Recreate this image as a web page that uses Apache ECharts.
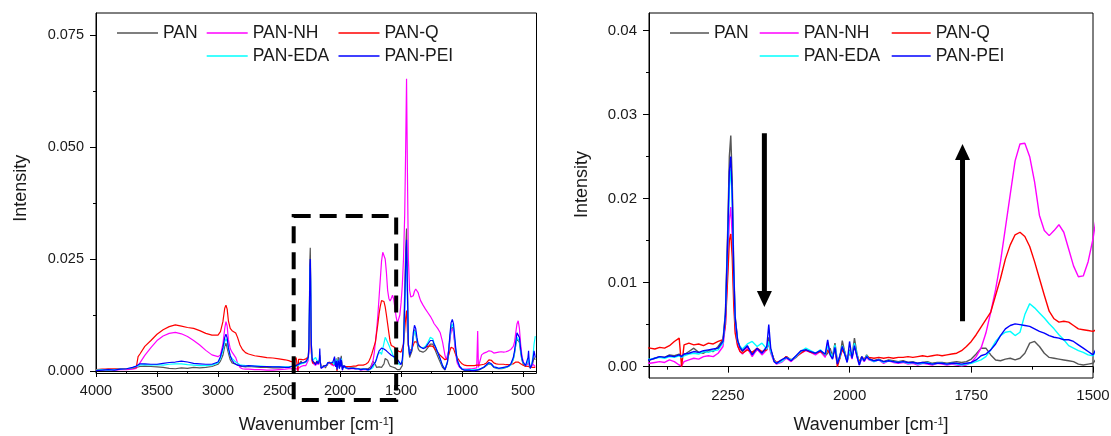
<!DOCTYPE html>
<html><head><meta charset="utf-8">
<script src="https://cdn.jsdelivr.net/npm/echarts@6/dist/echarts.min.js"></script>
<style>html,body{margin:0;padding:0;background:#fff}#c{width:1111px;height:436px}</style>
</head><body><div id="c"></div>
<script>
const SERIES_NAMES = ['PAN','PAN-NH','PAN-Q','PAN-EDA','PAN-PEI'];
const COLORS = ['#555555','#ff00ff','#ff0000','#00ffff','#0000ff'];

// wavenumber segments (cm^-1)
const WN_A = [
 4000,3950,3900,3850,3800,3750,3700,3670,3655,3640,
 3600,3550,3500,3450,3400,3350,3300,3250,3200,3150,
 3100,3050,3000,2980,2960,2945,2935,2925,2915,2900,
 2885,2870,2855,2840,2820,2800,2775,2750,2700,2650,
 2600,2550,2500,2450,2420];
const WN_B = [
 2410,2400,2390,2380,2370,2360,2350,2345,2340,2330,
 2320,2310,2300,2290,2280,2270,2260,2255,2250,2247,
 2244,2241,2238,2235,2230,2225,2220,2210,2200,2190,
 2180,2170,2166,2162,2155,2150,2140,2130,2120,2110,
 2100,2090,2080,2070,2060,2050,2045,2040,2035,2030,
 2025,2020,2015,2010,2005,2000,1995,1990,1985,1980,
 1975,1970,1965,1960,1950,1940,1930,1920,1910,1900,
 1890,1880,1870,1860,1850,1840,1830,1820,1810,1800,
 1790,1780,1770,1760,1750,1740,1730,1720,1710,1700,
 1690,1680,1670,1660,1650,1640,1630,1620,1610,1600,
 1590,1580,1570,1560,1550,1540,1530,1520,1510];
const WN_C = [
 1500,1490,1480,1470,1462,1455,1448,1440,1430,1420,
 1410,1400,1390,1380,1370,1360,1350,1340,1320,1300,
 1280,1260,1250,1240,1230,1220,1200,1180,1160,1140,
 1130,1120,1110,1100,1090,1080,1070,1060,1050,1040,
 1020,1000,980,960,940,920,900,880,872,866,
 860,840,820,800,780,770,760,740,720,700,
 680,660,640,620,600,580,570,560,550,540,
 530,520,510,500,490,480,470,460,455,450,
 440,430,420,410,400];

// PAN
const PAN_A = [
 0.0003,0.0002,0.0004,0.0003,0.0004,0.0005,0.0006,0.0008,0.0009,0.0010,
 0.0011,0.0010,0.0009,0.0008,0.0006,0.0005,0.0007,0.0006,0.0008,0.0007,
 0.0008,0.0010,0.0015,0.0022,0.0035,0.0055,0.0062,0.0058,0.0040,0.0025,
 0.0018,0.0016,0.0015,0.0012,0.0011,0.0010,0.0009,0.0010,0.0009,0.0008,
 0.0008,0.0007,0.0007,0.0008,0.0008];
const PAN_B = [
 0.0008,0.0010,0.0012,0.0011,0.0014,0.0013,0.0015,0.0012,0.0014,0.0018,
 0.0022,0.0017,0.0016,0.0019,0.0018,0.0024,0.0032,0.0065,0.0170,0.0250,
 0.0275,0.0220,0.0120,0.0060,0.0032,0.0022,0.0018,0.0024,0.0015,0.0020,
 0.0017,0.0022,0.0035,0.0020,0.0008,0.0004,0.0006,0.0012,0.0007,0.0011,
 0.0017,0.0021,0.0018,0.0015,0.0019,0.0013,0.0016,0.0022,0.0012,0.0028,
 0.0006,0.0010,0.0031,0.0018,0.0007,0.0020,0.0012,0.0034,0.0016,0.0004,
 0.0012,0.0008,0.0014,0.0010,0.0007,0.0009,0.0006,0.0008,0.0007,0.0006,
 0.0007,0.0005,0.0006,0.0004,0.0005,0.0006,0.0004,0.0005,0.0005,0.0004,
 0.0005,0.0006,0.0005,0.0006,0.0009,0.0015,0.0022,0.0022,0.0014,0.0008,
 0.0007,0.0009,0.0010,0.0008,0.0010,0.0016,0.0028,0.0030,0.0024,0.0016,
 0.0011,0.0010,0.0009,0.0008,0.0007,0.0006,0.0003,0.0002,0.0003];
const PAN_C = [
 0.0004,0.0012,0.0060,0.0180,0.0270,0.0318,0.0200,0.0060,0.0030,0.0030,
 0.0045,0.0075,0.0092,0.0085,0.0065,0.0050,0.0045,0.0043,0.0042,0.0045,
 0.0052,0.0060,0.0063,0.0060,0.0053,0.0046,0.0033,0.0020,0.0008,0.0002,
 0.0004,0.0018,0.0040,0.0070,0.0093,0.0098,0.0090,0.0065,0.0040,0.0022,
 0.0009,0.0004,0.0002,0.0002,0.0002,0.0002,0.0002,0.0002,0.0002,0.0002,
 0.0003,0.0005,0.0008,0.0012,0.0016,0.0017,0.0014,0.0008,0.0006,0.0005,
 0.0005,0.0006,0.0008,0.0010,0.0014,0.0026,0.0040,0.0058,0.0072,0.0075,
 0.0064,0.0042,0.0025,0.0016,0.0012,0.0010,0.0010,0.0018,0.0025,0.0012,
 0.0006,0.0010,0.0018,0.0030,0.0025];

// PAN-NH
const NH_A = [
 0.0003,0.0002,0.0003,0.0002,0.0003,0.0003,0.0004,0.0006,0.0010,0.0018,
 0.0035,0.0052,0.0068,0.0078,0.0084,0.0086,0.0083,0.0077,0.0068,0.0058,
 0.0046,0.0036,0.0032,0.0036,0.0060,0.0095,0.0110,0.0100,0.0070,0.0050,
 0.0042,0.0036,0.0030,0.0018,0.0008,0.0005,0.0004,0.0004,0.0003,0.0003,
 0.0002,0.0002,0.0003,0.0004,0.0005];
const NH_B = [
 0.0004,0.0005,0.0006,0.0005,0.0008,0.0006,0.0002,0.0001,0.0006,0.0008,
 0.0010,0.0009,0.0012,0.0013,0.0012,0.0016,0.0024,0.0050,0.0125,0.0175,
 0.0190,0.0155,0.0090,0.0045,0.0025,0.0018,0.0015,0.0022,0.0012,0.0021,
 0.0014,0.0020,0.0028,0.0016,0.0006,0.0003,0.0005,0.0010,0.0006,0.0012,
 0.0016,0.0019,0.0017,0.0014,0.0018,0.0011,0.0029,0.0016,0.0010,0.0024,
 0.0004,0.0012,0.0022,0.0015,0.0006,0.0018,0.0009,0.0026,0.0012,0.0002,
 0.0010,0.0006,0.0011,0.0008,0.0006,0.0008,0.0004,0.0007,0.0005,0.0004,
 0.0005,0.0003,0.0004,0.0002,0.0004,0.0003,0.0002,0.0004,0.0003,0.0002,
 0.0003,0.0002,0.0001,0.0002,0.0005,0.0012,0.0022,0.0040,0.0065,0.0092,
 0.0125,0.0165,0.0205,0.0245,0.0265,0.0266,0.0250,0.0220,0.0180,0.0162,
 0.0156,0.0162,0.0169,0.0160,0.0140,0.0120,0.0107,0.0108,0.0125];
const NH_C = [
 0.0152,0.0190,0.0250,0.0350,0.0500,0.0652,0.0450,0.0250,0.0180,0.0165,
 0.0162,0.0168,0.0178,0.0183,0.0182,0.0175,0.0165,0.0157,0.0147,0.0138,
 0.0130,0.0122,0.0117,0.0112,0.0106,0.0102,0.0095,0.0086,0.0065,0.0035,
 0.0025,0.0028,0.0045,0.0070,0.0090,0.0095,0.0085,0.0060,0.0035,0.0018,
 0.0008,0.0005,0.0004,0.0004,0.0005,0.0005,0.0006,0.0007,0.0089,0.0008,
 0.0015,0.0036,0.0040,0.0042,0.0045,0.0048,0.0044,0.0040,0.0041,0.0042,
 0.0043,0.0042,0.0043,0.0045,0.0048,0.0055,0.0065,0.0085,0.0105,0.0112,
 0.0095,0.0060,0.0035,0.0022,0.0015,0.0013,0.0012,0.0018,0.0025,0.0015,
 0.0010,0.0012,0.0015,0.0012,0.0010];

// PAN-Q
const Q_A = [
 0.0003,0.0004,0.0004,0.0005,0.0005,0.0005,0.0006,0.0008,0.0032,0.0038,
 0.0055,0.0068,0.0082,0.0092,0.0099,0.0103,0.0100,0.0097,0.0095,0.0090,
 0.0084,0.0080,0.0080,0.0088,0.0110,0.0140,0.0147,0.0138,0.0112,0.0095,
 0.0090,0.0088,0.0085,0.0075,0.0058,0.0048,0.0041,0.0038,0.0034,0.0032,
 0.0030,0.0029,0.0027,0.0025,0.0023];
const Q_B = [
 0.0022,0.0021,0.0023,0.0022,0.0025,0.0030,0.0034,0.0000,0.0026,0.0028,
 0.0026,0.0027,0.0025,0.0028,0.0027,0.0030,0.0032,0.0050,0.0110,0.0150,
 0.0158,0.0130,0.0075,0.0040,0.0025,0.0018,0.0016,0.0020,0.0017,0.0022,
 0.0018,0.0020,0.0030,0.0019,0.0008,0.0005,0.0007,0.0012,0.0008,0.0012,
 0.0016,0.0020,0.0017,0.0016,0.0018,0.0014,0.0020,0.0015,0.0011,0.0022,
 0.0000,0.0010,0.0020,0.0016,0.0008,0.0017,0.0012,0.0025,0.0014,0.0006,
 0.0011,0.0009,0.0012,0.0011,0.0010,0.0011,0.0010,0.0011,0.0010,0.0011,
 0.0011,0.0012,0.0011,0.0012,0.0013,0.0012,0.0013,0.0014,0.0013,0.0014,
 0.0015,0.0016,0.0019,0.0024,0.0030,0.0038,0.0047,0.0056,0.0065,0.0085,
 0.0105,0.0128,0.0145,0.0157,0.0160,0.0155,0.0143,0.0125,0.0105,0.0085,
 0.0066,0.0057,0.0053,0.0054,0.0053,0.0049,0.0045,0.0044,0.0043];
const Q_C = [
 0.0042,0.0045,0.0060,0.0090,0.0120,0.0135,0.0090,0.0055,0.0045,0.0045,
 0.0050,0.0058,0.0065,0.0068,0.0065,0.0060,0.0056,0.0053,0.0052,0.0053,
 0.0055,0.0056,0.0056,0.0055,0.0052,0.0048,0.0042,0.0035,0.0030,0.0025,
 0.0025,0.0028,0.0035,0.0045,0.0053,0.0055,0.0050,0.0042,0.0035,0.0030,
 0.0022,0.0016,0.0013,0.0012,0.0012,0.0012,0.0012,0.0013,0.0013,0.0013,
 0.0013,0.0014,0.0015,0.0018,0.0025,0.0028,0.0024,0.0018,0.0016,0.0015,
 0.0015,0.0015,0.0014,0.0014,0.0015,0.0016,0.0018,0.0020,0.0021,0.0020,
 0.0018,0.0016,0.0014,0.0013,0.0012,0.0011,0.0010,0.0010,0.0010,0.0010,
 0.0009,0.0009,0.0008,0.0008,0.0008];

// PAN-EDA
const EDA_A = [
 0.0002,0.0003,0.0002,0.0003,0.0004,0.0005,0.0007,0.0010,0.0012,0.0013,
 0.0014,0.0013,0.0014,0.0013,0.0015,0.0016,0.0016,0.0014,0.0013,0.0012,
 0.0012,0.0013,0.0018,0.0028,0.0045,0.0065,0.0072,0.0066,0.0048,0.0033,
 0.0028,0.0024,0.0020,0.0016,0.0014,0.0013,0.0012,0.0012,0.0011,0.0011,
 0.0010,0.0010,0.0010,0.0009,0.0009];
const EDA_B = [
 0.0009,0.0010,0.0011,0.0010,0.0012,0.0011,0.0013,0.0011,0.0013,0.0015,
 0.0016,0.0015,0.0018,0.0017,0.0019,0.0020,0.0028,0.0060,0.0150,0.0215,
 0.0235,0.0195,0.0110,0.0055,0.0030,0.0024,0.0021,0.0027,0.0030,0.0024,
 0.0028,0.0021,0.0030,0.0018,0.0007,0.0004,0.0006,0.0011,0.0008,0.0012,
 0.0018,0.0022,0.0019,0.0016,0.0020,0.0014,0.0025,0.0017,0.0011,0.0026,
 0.0005,0.0011,0.0025,0.0017,0.0006,0.0019,0.0011,0.0028,0.0015,0.0003,
 0.0011,0.0007,0.0013,0.0009,0.0006,0.0008,0.0005,0.0007,0.0006,0.0005,
 0.0006,0.0004,0.0005,0.0003,0.0004,0.0005,0.0003,0.0004,0.0004,0.0003,
 0.0004,0.0003,0.0002,0.0003,0.0004,0.0006,0.0008,0.0012,0.0020,0.0030,
 0.0037,0.0041,0.0042,0.0037,0.0041,0.0062,0.0075,0.0070,0.0064,0.0058,
 0.0051,0.0045,0.0038,0.0032,0.0025,0.0022,0.0019,0.0017,0.0014];
const EDA_C = [
 0.0013,0.0022,0.0055,0.0130,0.0220,0.0270,0.0160,0.0060,0.0038,0.0038,
 0.0050,0.0075,0.0090,0.0085,0.0070,0.0058,0.0054,0.0052,0.0052,0.0055,
 0.0064,0.0075,0.0078,0.0072,0.0063,0.0056,0.0042,0.0027,0.0012,0.0004,
 0.0006,0.0020,0.0045,0.0075,0.0098,0.0105,0.0095,0.0070,0.0043,0.0025,
 0.0011,0.0005,0.0003,0.0003,0.0003,0.0003,0.0003,0.0003,0.0003,0.0003,
 0.0004,0.0006,0.0009,0.0013,0.0017,0.0018,0.0015,0.0009,0.0007,0.0006,
 0.0006,0.0007,0.0008,0.0010,0.0014,0.0026,0.0040,0.0058,0.0075,0.0078,
 0.0066,0.0045,0.0027,0.0018,0.0014,0.0012,0.0011,0.0022,0.0030,0.0015,
 0.0008,0.0015,0.0030,0.0060,0.0078];

// PAN-PEI
const PEI_A = [
 0.0001,0.0002,0.0003,0.0002,0.0004,0.0005,0.0008,0.0011,0.0014,0.0016,
 0.0016,0.0015,0.0015,0.0017,0.0019,0.0020,0.0022,0.0020,0.0017,0.0016,
 0.0015,0.0015,0.0020,0.0032,0.0052,0.0075,0.0082,0.0074,0.0052,0.0034,
 0.0024,0.0018,0.0015,0.0013,0.0012,0.0011,0.0011,0.0012,0.0011,0.0010,
 0.0010,0.0009,0.0009,0.0008,0.0008];
const PEI_B = [
 0.0008,0.0010,0.0012,0.0011,0.0013,0.0012,0.0014,0.0012,0.0015,0.0016,
 0.0018,0.0017,0.0019,0.0020,0.0021,0.0022,0.0030,0.0062,0.0160,0.0232,
 0.0250,0.0205,0.0115,0.0058,0.0031,0.0023,0.0019,0.0025,0.0014,0.0022,
 0.0016,0.0024,0.0050,0.0022,0.0006,0.0004,0.0008,0.0011,0.0007,0.0013,
 0.0019,0.0020,0.0018,0.0016,0.0019,0.0015,0.0032,0.0014,0.0009,0.0023,
 0.0003,0.0013,0.0024,0.0015,0.0005,0.0030,0.0010,0.0025,0.0013,0.0002,
 0.0012,0.0007,0.0012,0.0009,0.0007,0.0008,0.0006,0.0007,0.0006,0.0005,
 0.0006,0.0005,0.0005,0.0004,0.0005,0.0004,0.0003,0.0004,0.0004,0.0003,
 0.0004,0.0004,0.0003,0.0004,0.0005,0.0008,0.0013,0.0015,0.0020,0.0027,
 0.0037,0.0045,0.0049,0.0051,0.0050,0.0049,0.0048,0.0045,0.0042,0.0040,
 0.0037,0.0035,0.0034,0.0032,0.0032,0.0030,0.0026,0.0022,0.0018];
const PEI_C = [
 0.0014,0.0025,0.0060,0.0150,0.0240,0.0293,0.0180,0.0060,0.0035,0.0035,
 0.0050,0.0085,0.0102,0.0095,0.0075,0.0060,0.0055,0.0052,0.0050,0.0052,
 0.0060,0.0068,0.0072,0.0068,0.0060,0.0055,0.0042,0.0028,0.0012,0.0003,
 0.0005,0.0020,0.0045,0.0080,0.0108,0.0115,0.0105,0.0075,0.0045,0.0025,
 0.0010,0.0004,0.0002,0.0002,0.0002,0.0001,0.0001,0.0002,0.0002,0.0002,
 0.0003,0.0006,0.0009,0.0014,0.0019,0.0020,0.0016,0.0009,0.0008,0.0006,
 0.0007,0.0008,0.0009,0.0011,0.0016,0.0030,0.0045,0.0065,0.0085,0.0088,
 0.0075,0.0050,0.0030,0.0020,0.0016,0.0012,0.0012,0.0030,0.0045,0.0020,
 0.0006,0.0012,0.0025,0.0045,0.0030];

// tick values
const L_X_MAJOR = [4000,3500,3000,2500,2000,1500,1000,500];
const L_X_MINOR = [3750,3250,2750,2250,1750,1250,750];
const L_Y_MAJOR = [0,0.025,0.05,0.075];
const L_Y_MINOR = [0.0125,0.0375,0.0625];
const R_X_MAJOR = [2250,2000,1750,1500];
const R_X_MINOR = [2375,2125,1875,1625];
const R_Y_MAJOR = [0,0.01,0.02,0.03,0.04];
const R_Y_MINOR = [0.005,0.015,0.025,0.035];

// annotations (data coordinates)
const ZOOM_BOX = [2380, 0.0346, 1540, -0.0065];
const ARROW_DOWN = [2175, 0.0278, 0.0071];
const ARROW_UP = [1768, 0.0054, 0.0265];

const WN = WN_A.concat(WN_B, WN_C);
const VALUES = [
  PAN_A.concat(PAN_B, PAN_C),
  NH_A.concat(NH_B, NH_C),
  Q_A.concat(Q_B, Q_C),
  EDA_A.concat(EDA_B, EDA_C),
  PEI_A.concat(PEI_B, PEI_C)
];
VALUES.forEach((v, i) => { if (v.length !== WN.length) throw new Error('length mismatch ' + SERIES_NAMES[i] + ' ' + v.length + ' vs ' + WN.length); });

const FONT = "'Liberation Sans', Arial, sans-serif";
const TXT = '#1a1a1a';

function xAxes(grid, min, max, major, minor, labelSize, nameGap) {
  return [{
    type: 'value', gridIndex: grid, min: min, max: max, inverse: true, position: 'bottom',
    axisLine: { show: true, lineStyle: { color: '#000', width: 1 } },
    axisTick: { show: true, customValues: major, length: 6, lineStyle: { color: '#000', width: 1 } },
    axisLabel: { customValues: major, fontSize: labelSize, color: TXT, fontFamily: FONT, margin: 10, formatter: v => String(v) },
    splitLine: { show: false },
    name: 'Wavenumber [cm{sup|-1}]', nameLocation: 'middle', nameGap: nameGap,
    nameTextStyle: { fontSize: 18, color: TXT, fontFamily: FONT,
      rich: { sup: { fontSize: 11, color: TXT, fontFamily: FONT, verticalAlign: 'top' } } }
  }, {
    type: 'value', gridIndex: grid, min: min, max: max, inverse: true, position: 'bottom', offset: 0,
    axisLine: { show: false },
    axisTick: { show: true, customValues: minor, length: 3, lineStyle: { color: '#000', width: 1 } },
    axisLabel: { show: false }, splitLine: { show: false }
  }];
}
function yAxes(grid, min, max, major, minor, labelSize, digits, nameGap, pad) {
  return [{
    type: 'value', gridIndex: grid, min: min, max: max, position: 'left',
    axisLine: { show: true, lineStyle: { color: '#000', width: 1 } },
    axisTick: { show: true, customValues: major, length: 6, lineStyle: { color: '#000', width: 1 } },
    axisLabel: { customValues: major, fontSize: labelSize, color: TXT, fontFamily: FONT, margin: 12, formatter: v => v.toFixed(digits) },
    splitLine: { show: false },
    name: 'Intensity', nameLocation: 'middle', nameGap: nameGap,
    nameTextStyle: { fontSize: 18, color: TXT, fontFamily: FONT, padding: [0, 0, 0, pad] }
  }, {
    type: 'value', gridIndex: grid, min: min, max: max, position: 'left', offset: 0,
    axisLine: { show: false },
    axisTick: { show: true, customValues: minor, length: 3, lineStyle: { color: '#000', width: 1 } },
    axisLabel: { show: false }, splitLine: { show: false }
  }];
}

const series = [];
[0, 1].forEach(g => {
  SERIES_NAMES.forEach((name, i) => {
    series.push({
      type: 'line', name: name, xAxisIndex: g * 2, yAxisIndex: g * 2,
      data: WN.map((x, k) => [x, VALUES[i][k]]),
      symbol: 'none', showSymbol: false, clip: true, silent: true,
      color: COLORS[i],
      lineStyle: { color: COLORS[i], width: g === 0 ? 1.2 : 1.4 },
      z: 2 + i
    });
  });
});

function legend(left, names, w) {
  return {
    orient: 'vertical', left: left, top: 23, itemGap: 3, itemWidth: w, itemHeight: 1.6,
    icon: 'rect', selectedMode: false, data: names, padding: 0,
    textStyle: { fontSize: 17.5, color: TXT, fontFamily: FONT, lineHeight: 20 }
  };
}

const chart = echarts.init(document.getElementById('c'), null, { renderer: 'canvas' });
chart.setOption({
  animation: false,
  backgroundColor: '#fff',
  grid: [
    { left: 96, top: 13, width: 440.5, height: 360.5, containLabel: false, outerBoundsMode: 'none',
      show: true, borderColor: '#000', borderWidth: 1, backgroundColor: 'transparent' },
    { left: 649, top: 13, width: 444, height: 365, containLabel: false, outerBoundsMode: 'none',
      show: true, borderColor: '#000', borderWidth: 1, backgroundColor: 'transparent' }
  ],
  legend: [
    legend(117, ['PAN'], 41), legend(206.7, ['PAN-NH', 'PAN-EDA'], 41), legend(338.5, ['PAN-Q', 'PAN-PEI'], 41),
    legend(670, ['PAN'], 39), legend(759.7, ['PAN-NH', 'PAN-EDA'], 39), legend(891.7, ['PAN-Q', 'PAN-PEI'], 39)
  ],
  xAxis: xAxes(0, 390, 4000, L_X_MAJOR, L_X_MINOR, 14.5, 43).concat(xAxes(1, 1500, 2412, R_X_MAJOR, R_X_MINOR, 15, 38)),
  yAxis: yAxes(0, -0.00056, 0.0799, L_Y_MAJOR, L_Y_MINOR, 14.5, 3, 66, 10).concat(yAxes(1, -0.00135, 0.0421, R_Y_MAJOR, R_Y_MINOR, 15, 2, 58, 22)),
  series: series
});

function P(si, x, y) { return chart.convertToPixel({ seriesIndex: si }, [x, y]); }
const b1 = P(0, ZOOM_BOX[0], ZOOM_BOX[1]);
const b2 = P(0, ZOOM_BOX[2], ZOOM_BOX[3]);
const dTop = P(5, ARROW_DOWN[0], ARROW_DOWN[1]);
const dTip = P(5, ARROW_DOWN[0], ARROW_DOWN[2]);
const uBot = P(5, ARROW_UP[0], ARROW_UP[1]);
const uTip = P(5, ARROW_UP[0], ARROW_UP[2]);
const HEAD_H = 16, HEAD_W = 15, SHAFT = 5;
chart.setOption({
  graphic: [
    { type: 'rect', z: 50, silent: true,
      shape: { x: Math.min(b1[0], b2[0]), y: Math.min(b1[1], b2[1]), width: Math.abs(b2[0] - b1[0]), height: Math.abs(b2[1] - b1[1]) },
      style: { fill: 'none', stroke: '#000', lineWidth: 4, lineDash: [17, 9] } },
    { type: 'rect', z: 50, silent: true,
      shape: { x: dTop[0] - SHAFT / 2, y: dTop[1], width: SHAFT, height: dTip[1] - HEAD_H - dTop[1] + 1 },
      style: { fill: '#000' } },
    { type: 'polygon', z: 50, silent: true,
      shape: { points: [[dTip[0] - HEAD_W / 2, dTip[1] - HEAD_H], [dTip[0] + HEAD_W / 2, dTip[1] - HEAD_H], [dTip[0], dTip[1]]] },
      style: { fill: '#000' } },
    { type: 'rect', z: 50, silent: true,
      shape: { x: uTip[0] - SHAFT / 2, y: uTip[1] + HEAD_H - 1, width: SHAFT, height: uBot[1] - uTip[1] - HEAD_H + 1 },
      style: { fill: '#000' } },
    { type: 'polygon', z: 50, silent: true,
      shape: { points: [[uTip[0] - HEAD_W / 2, uTip[1] + HEAD_H], [uTip[0] + HEAD_W / 2, uTip[1] + HEAD_H], [uTip[0], uTip[1]]] },
      style: { fill: '#000' } }
  ]
});
</script>
</body></html>
